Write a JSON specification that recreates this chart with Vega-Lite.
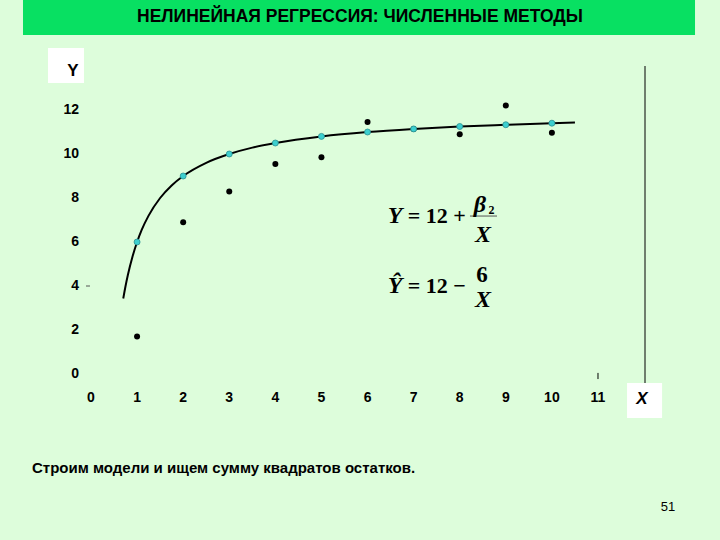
{
  "$schema": "https://vega.github.io/schema/vega-lite/v6.json",
  "width": 720,
  "height": 540,
  "autosize": {"type": "fit", "contains": "padding"},
  "padding": 0,
  "background": "#DDFDDB",
  "config": {"view": {"stroke": null, "fill": "#DDFDDB"}},
  "encoding": {
    "x": {"field": "x", "type": "quantitative", "scale": {"domain": [-1.974, 13.647], "nice": false, "zero": false}, "axis": null},
    "y": {"field": "y", "type": "quantitative", "scale": {"domain": [-7.545, 17.0], "nice": false, "zero": false}, "axis": null}
  },
  "layer": [
    {
      "data": {"values": [{"x": -1.475, "x2": 13.105, "y": 17.0, "y2": 15.41}]},
      "mark": {"type": "rect", "color": "#08E062"},
      "encoding": {"x2": {"field": "x2"}, "y2": {"field": "y2"}}
    },
    {
      "data": {"values": [{"x": -0.933, "x2": -0.152, "y": 14.82, "y2": 13.23}, {"x": 11.63, "x2": 12.39, "y": -0.409, "y2": -2.0}]},
      "mark": {"type": "rect", "color": "#FFFFFF"},
      "encoding": {"x2": {"field": "x2"}, "y2": {"field": "y2"}}
    },
    {
      "data": {"values": [{"x": 12.02, "y": 14.0, "y2": -0.409}, {"x": 11.0, "y": 0.05, "y2": -0.23}]},
      "mark": {"type": "rule", "color": "#000000", "strokeWidth": 1},
      "encoding": {"y2": {"field": "y2"}}
    },
    {
      "data": {"values": [{"x": -0.108, "x2": -0.022, "y": 4.0}, {"x": 8.223, "x2": 8.809, "y": 7.18}]},
      "mark": {"type": "rule", "color": "#555555", "strokeWidth": 1},
      "encoding": {"x2": {"field": "x2"}}
    },
    {
      "data": {"values": [
        {"x": 0.7, "y": 3.43}, {"x": 0.75, "y": 4.0}, {"x": 0.8, "y": 4.5}, {"x": 0.9, "y": 5.33},
        {"x": 1.0, "y": 6.0}, {"x": 1.1, "y": 6.55}, {"x": 1.25, "y": 7.2}, {"x": 1.5, "y": 8.0},
        {"x": 1.75, "y": 8.57}, {"x": 2.0, "y": 9.0}, {"x": 2.5, "y": 9.6}, {"x": 3.0, "y": 10.0},
        {"x": 3.5, "y": 10.29}, {"x": 4.0, "y": 10.5}, {"x": 5.0, "y": 10.8}, {"x": 6.0, "y": 11.0},
        {"x": 7.0, "y": 11.14}, {"x": 8.0, "y": 11.25}, {"x": 9.0, "y": 11.33}, {"x": 10.0, "y": 11.4},
        {"x": 10.5, "y": 11.43}
      ]},
      "mark": {"type": "line", "color": "#000000", "strokeWidth": 2, "interpolate": "monotone"},
      "encoding": {}
    },
    {
      "data": {"values": [
        {"x": 1, "y": 1.7}, {"x": 2, "y": 6.9}, {"x": 3, "y": 8.3}, {"x": 4, "y": 9.55},
        {"x": 5, "y": 9.85}, {"x": 6, "y": 11.45}, {"x": 7, "y": 11.14}, {"x": 8, "y": 10.9},
        {"x": 9, "y": 12.2}, {"x": 10, "y": 10.97}
      ]},
      "mark": {"type": "circle", "color": "#000000", "opacity": 1, "size": 36},
      "encoding": {}
    },
    {
      "data": {"values": [
        {"x": 1, "y": 6.0}, {"x": 2, "y": 9.0}, {"x": 3, "y": 10.0}, {"x": 4, "y": 10.5},
        {"x": 5, "y": 10.8}, {"x": 6, "y": 11.0}, {"x": 7, "y": 11.14}, {"x": 8, "y": 11.25},
        {"x": 9, "y": 11.33}, {"x": 10, "y": 11.4}
      ]},
      "mark": {"type": "point", "shape": "circle", "filled": true, "fill": "#3CCFCF", "stroke": "#2A9090", "strokeWidth": 0.8, "opacity": 1, "size": 36},
      "encoding": {}
    },
    {
      "data": {"values": [
        {"x": -0.26, "y": 0, "t": "0"}, {"x": -0.26, "y": 2, "t": "2"}, {"x": -0.26, "y": 4, "t": "4"},
        {"x": -0.26, "y": 6, "t": "6"}, {"x": -0.26, "y": 8, "t": "8"}, {"x": -0.26, "y": 10, "t": "10"},
        {"x": -0.26, "y": 12, "t": "12"}
      ]},
      "mark": {"type": "text", "font": "Liberation Sans", "fontWeight": "bold", "fontSize": 14, "align": "right", "baseline": "middle", "color": "#000000"},
      "encoding": {"text": {"field": "t"}}
    },
    {
      "data": {"values": [
        {"x": 0, "y": -1.091, "t": "0"}, {"x": 1, "y": -1.091, "t": "1"}, {"x": 2, "y": -1.091, "t": "2"},
        {"x": 3, "y": -1.091, "t": "3"}, {"x": 4, "y": -1.091, "t": "4"}, {"x": 5, "y": -1.091, "t": "5"},
        {"x": 6, "y": -1.091, "t": "6"}, {"x": 7, "y": -1.091, "t": "7"}, {"x": 8, "y": -1.091, "t": "8"},
        {"x": 9, "y": -1.091, "t": "9"}, {"x": 10, "y": -1.091, "t": "10"}, {"x": 11, "y": -1.091, "t": "11"}
      ]},
      "mark": {"type": "text", "font": "Liberation Sans", "fontWeight": "bold", "fontSize": 14, "align": "center", "baseline": "middle", "color": "#000000"},
      "encoding": {"text": {"field": "t"}}
    },
    {
      "data": {"values": [{"x": -0.39, "y": 13.77, "t": "Y"}]},
      "mark": {"type": "text", "font": "Liberation Sans", "fontWeight": "bold", "fontSize": 17, "align": "center", "baseline": "middle", "color": "#000000"},
      "encoding": {"text": {"field": "t"}}
    },
    {
      "data": {"values": [{"x": 11.955, "y": -1.136, "t": "X"}]},
      "mark": {"type": "text", "font": "Liberation Sans", "fontWeight": "bold", "fontStyle": "italic", "fontSize": 17, "align": "center", "baseline": "middle", "color": "#000000"},
      "encoding": {"text": {"field": "t"}}
    },
    {
      "data": {"values": [{"x": 5.836, "y": 16.227, "t": "НЕЛИНЕЙНАЯ РЕГРЕССИЯ: ЧИСЛЕННЫЕ МЕТОДЫ"}]},
      "mark": {"type": "text", "font": "Liberation Sans", "fontWeight": "bold", "fontSize": 17.5, "align": "center", "baseline": "middle", "color": "#000000"},
      "encoding": {"text": {"field": "t"}}
    },
    {
      "data": {"values": [{"x": -1.28, "y": -4.273, "t": "Строим модели и ищем сумму квадратов остатков."}]},
      "mark": {"type": "text", "font": "Liberation Sans", "fontWeight": "bold", "fontSize": 15, "align": "left", "baseline": "middle", "color": "#000000"},
      "encoding": {"text": {"field": "t"}}
    },
    {
      "data": {"values": [{"x": 12.519, "y": -6.045, "t": "51"}]},
      "mark": {"type": "text", "font": "Liberation Sans", "fontSize": 13, "align": "center", "baseline": "middle", "color": "#000000"},
      "encoding": {"text": {"field": "t"}}
    },
    {
      "data": {"values": [
        {"x": 6.596, "y": 6.864, "t": "Y"}, {"x": 6.596, "y": 3.682, "t": "Ŷ"},
        {"x": 8.44, "y": 7.364, "t": "β"},
        {"x": 8.505, "y": 6.014, "t": "X"}, {"x": 8.505, "y": 3.045, "t": "X"}
      ]},
      "mark": {"type": "text", "font": "Liberation Serif", "fontWeight": "bold", "fontStyle": "italic", "fontSize": 24, "align": "center", "baseline": "alphabetic", "color": "#000000"},
      "encoding": {"text": {"field": "t"}}
    },
    {
      "data": {"values": [
        {"x": 6.87, "y": 6.864, "t": "= 12 +"}, {"x": 6.87, "y": 3.682, "t": "= 12 −"}
      ]},
      "mark": {"type": "text", "font": "Liberation Serif", "fontWeight": "bold", "fontSize": 22, "align": "left", "baseline": "alphabetic", "color": "#000000"},
      "encoding": {"text": {"field": "t"}}
    },
    {
      "data": {"values": [{"x": 8.483, "y": 4.182, "t": "6"}]},
      "mark": {"type": "text", "font": "Liberation Serif", "fontWeight": "bold", "fontSize": 23, "align": "center", "baseline": "alphabetic", "color": "#000000"},
      "encoding": {"text": {"field": "t"}}
    },
    {
      "data": {"values": [{"x": 8.688, "y": 7.295, "t": "2"}]},
      "mark": {"type": "text", "font": "Liberation Serif", "fontWeight": "bold", "fontSize": 12, "align": "center", "baseline": "alphabetic", "color": "#000000"},
      "encoding": {"text": {"field": "t"}}
    }
  ]
}
